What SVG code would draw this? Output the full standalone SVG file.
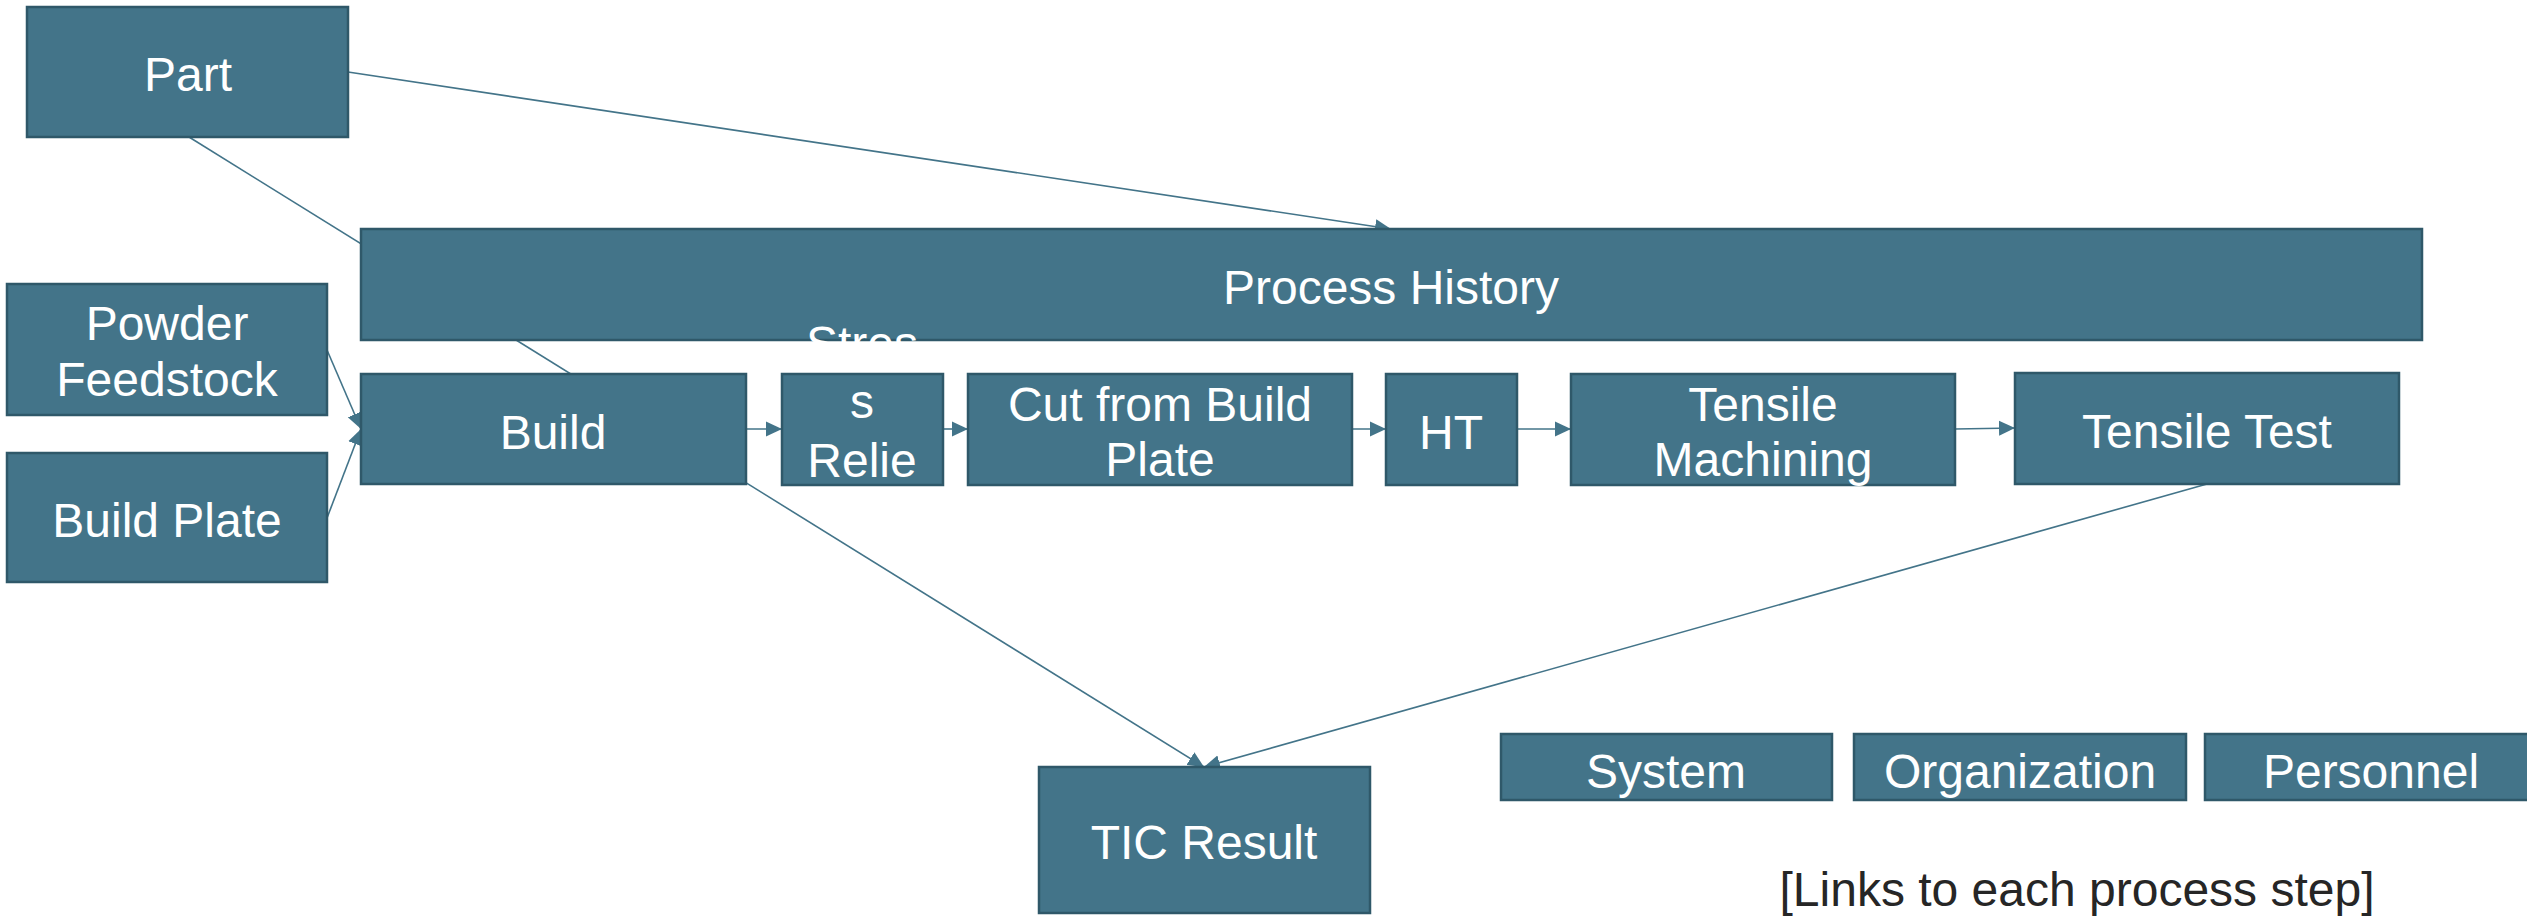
<svg xmlns="http://www.w3.org/2000/svg" width="2527" height="917" viewBox="0 0 2527 917">
  <style>
    .box { fill: #437489; stroke: #2f5869; stroke-width: 2.5; }
    .lbl { font-family: "Liberation Sans", Arial, sans-serif; font-size: 48px; fill: #ffffff; text-anchor: middle; }
    .note { font-family: "Liberation Sans", Arial, sans-serif; font-size: 48px; fill: #262626; text-anchor: middle; }
    .edge { stroke: #437489; stroke-width: 1.6; fill: none; marker-end: url(#arrow); }
  </style>
  <defs>
    <marker id="arrow" markerUnits="userSpaceOnUse" markerWidth="16" markerHeight="16" refX="16" refY="8" orient="auto">
      <path d="M0,0.5 L16,8 L0,15.5 Z" fill="#437489"/>
    </marker>
  </defs>

  <!-- connectors (drawn beneath the boxes) -->
  <g id="connectors">
    <line class="edge" x1="348" y1="72" x2="1391" y2="229"/>
    <line class="edge" x1="189" y1="137" x2="1204" y2="767"/>
    <line class="edge" x1="2207" y1="484" x2="1204" y2="767"/>
    <line class="edge" x1="327" y1="350" x2="361" y2="429"/>
    <line class="edge" x1="327" y1="518" x2="361" y2="429"/>
    <line class="edge" x1="746" y1="429" x2="782" y2="429"/>
    <line class="edge" x1="943" y1="429" x2="968" y2="429"/>
    <line class="edge" x1="1352" y1="429" x2="1386" y2="429"/>
    <line class="edge" x1="1517" y1="429" x2="1571" y2="429"/>
    <line class="edge" x1="1955" y1="429" x2="2015" y2="428"/>
  </g>

  <g id="part">
    <rect class="box" x="27" y="7" width="321" height="130"/>
    <text class="lbl" x="188" y="91">Part</text>
  </g>
  <g id="powder-feedstock">
    <rect class="box" x="7" y="284" width="320" height="131"/>
    <text class="lbl" x="167" y="340">Powder</text>
    <text class="lbl" x="167" y="396">Feedstock</text>
  </g>
  <g id="build-plate">
    <rect class="box" x="7" y="453" width="320" height="129"/>
    <text class="lbl" x="167" y="537">Build Plate</text>
  </g>
  <g id="process-history">
    <rect class="box" x="361" y="229" width="2061" height="111"/>
    <text class="lbl" x="1391" y="304">Process History</text>
  </g>
  <g id="build">
    <rect class="box" x="361" y="374" width="385" height="110"/>
    <text class="lbl" x="553" y="449">Build</text>
  </g>
  <g id="stress-relief">
    <rect class="box" x="782" y="374" width="161" height="111"/>
    <text class="lbl" x="862" y="360">Stres</text>
    <text class="lbl" x="862" y="418">s</text>
    <text class="lbl" x="862" y="477">Relie</text>
  </g>
  <g id="cut-from-build-plate">
    <rect class="box" x="968" y="374" width="384" height="111"/>
    <text class="lbl" x="1160" y="421">Cut from Build</text>
    <text class="lbl" x="1160" y="476">Plate</text>
  </g>
  <g id="ht">
    <rect class="box" x="1386" y="374" width="131" height="111"/>
    <text class="lbl" x="1451" y="449">HT</text>
  </g>
  <g id="tensile-machining">
    <rect class="box" x="1571" y="374" width="384" height="111"/>
    <text class="lbl" x="1763" y="421">Tensile</text>
    <text class="lbl" x="1763" y="476">Machining</text>
  </g>
  <g id="tensile-test">
    <rect class="box" x="2015" y="373" width="384" height="111"/>
    <text class="lbl" x="2207" y="448">Tensile Test</text>
  </g>
  <g id="tic-result">
    <rect class="box" x="1039" y="767" width="331" height="146"/>
    <text class="lbl" x="1204" y="859">TIC Result</text>
  </g>
  <g id="system">
    <rect class="box" x="1501" y="734" width="331" height="66"/>
    <text class="lbl" x="1666" y="788">System</text>
  </g>
  <g id="organization">
    <rect class="box" x="1854" y="734" width="332" height="66"/>
    <text class="lbl" x="2020" y="788">Organization</text>
  </g>
  <g id="personnel">
    <rect class="box" x="2205" y="734" width="330" height="66"/>
    <text class="lbl" x="2371" y="788">Personnel</text>
  </g>

  <text class="note" x="2077" y="906">[Links to each process step]</text>
</svg>
